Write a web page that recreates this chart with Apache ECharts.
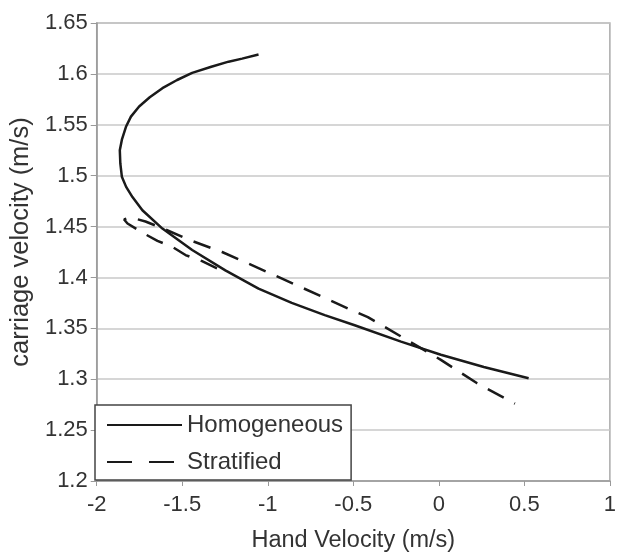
<!DOCTYPE html>
<html>
<head>
<meta charset="utf-8">
<script src="https://cdn.jsdelivr.net/npm/echarts@6/dist/echarts.min.js"></script>
<style>html,body{margin:0;padding:0;background:#fff}#c{width:619px;height:558px}</style>
</head>
<body>
<div id="c"></div>
<script>
var seriesNames = ["Homogeneous", "Stratified"];
var homogeneousX = [-1.054, -1.150, -1.229, -1.330, -1.442, -1.530, -1.616, -1.690, -1.752, -1.800, -1.829, -1.852, -1.865, -1.862, -1.853, -1.828, -1.791, -1.733, -1.616, -1.442, -1.248, -1.054, -0.860, -0.667, -0.492, -0.221, 0.012, 0.263, 0.525];
var homogeneousY = [1.619, 1.615, 1.612, 1.607, 1.601, 1.594, 1.586, 1.577, 1.568, 1.558, 1.548, 1.536, 1.525, 1.512, 1.499, 1.489, 1.479, 1.466, 1.448, 1.427, 1.407, 1.389, 1.375, 1.363, 1.353, 1.337, 1.324, 1.312, 1.301];
var stratifiedX = [-1.297, -1.384, -1.481, -1.558, -1.645, -1.733, -1.820, -1.840, -1.801, -1.715, -1.597, -1.461, -1.267, -0.958, -0.800, -0.667, -0.512, -0.415, -0.221, 0.012, 0.224, 0.445];
var stratifiedY = [1.409, 1.416, 1.422, 1.430, 1.436, 1.444, 1.453, 1.457, 1.459, 1.455, 1.447, 1.437, 1.425, 1.402, 1.390, 1.380, 1.368, 1.361, 1.342, 1.319, 1.296, 1.276];

function zip(xs, ys) { return xs.map(function (x, i) { return [x, ys[i]]; }); }

var font = 'Liberation Sans, Arial, sans-serif';
var chart = echarts.init(document.getElementById('c'));
chart.setOption({
  animation: false,
  backgroundColor: '#fff',
  grid: { left: 94, right: 9, top: 23, bottom: 76, show: true, borderColor: '#aaa', borderWidth: 1.5 },
  xAxis: {
    type: 'value', min: -2, max: 1, interval: 0.5,
    name: 'Hand Velocity (m/s)', nameLocation: 'middle', nameGap: 48,
    nameTextStyle: { fontFamily: font, fontSize: 23.5, color: '#333' },
    axisLine: { onZero: false, lineStyle: { color: '#999', width: 1.5 } },
    axisTick: { show: true, length: 5, lineStyle: { color: '#999' } },
    axisLabel: { fontFamily: font, fontSize: 22, color: '#333', margin: 13 },
    splitLine: { show: false }
  },
  yAxis: {
    type: 'value', min: 1.2, max: 1.65, interval: 0.05,
    name: 'carriage velocity (m/s)', nameLocation: 'middle', nameGap: 60,
    nameTextStyle: { fontFamily: font, fontSize: 25.5, color: '#333', padding: [0, 0, 0, 20] },
    axisLine: { show: true, onZero: false, lineStyle: { color: '#999', width: 1.5 } },
    axisTick: { show: true, length: 6, lineStyle: { color: '#999' } },
    axisLabel: { fontFamily: font, fontSize: 22, color: '#333', margin: 9 },
    splitLine: { show: true, lineStyle: { color: '#c8c8c8', width: 1.5 } }
  },
  legend: {
    orient: 'vertical', left: 95, top: 405,
    padding: [6, 8, 4, 11],
    itemWidth: 75, itemHeight: 14, itemGap: 9, itemTextGap: 6,
    backgroundColor: '#fff', borderColor: '#444', borderWidth: 1.5, borderRadius: 0,
    textStyle: { fontFamily: font, fontSize: 24, color: '#333', lineHeight: 28 },
    itemStyle: { opacity: 0 },
    data: [
      { name: seriesNames[0], itemStyle: { opacity: 0 } },
      { name: seriesNames[1], itemStyle: { opacity: 0 }, lineStyle: { type: [25, 17] } }
    ]
  },
  series: [
    {
      name: seriesNames[0], type: 'line', symbol: 'none', smooth: false,
      lineStyle: { color: '#1a1a1a', width: 2.5 }, itemStyle: { color: '#1a1a1a' },
      data: zip(homogeneousX, homogeneousY)
    },
    {
      name: seriesNames[1], type: 'line', symbol: 'none', smooth: false,
      lineStyle: { color: '#1a1a1a', width: 2.5, type: [18, 12] }, itemStyle: { color: '#1a1a1a' },
      data: zip(stratifiedX, stratifiedY)
    }
  ]
});
</script>
</body>
</html>
